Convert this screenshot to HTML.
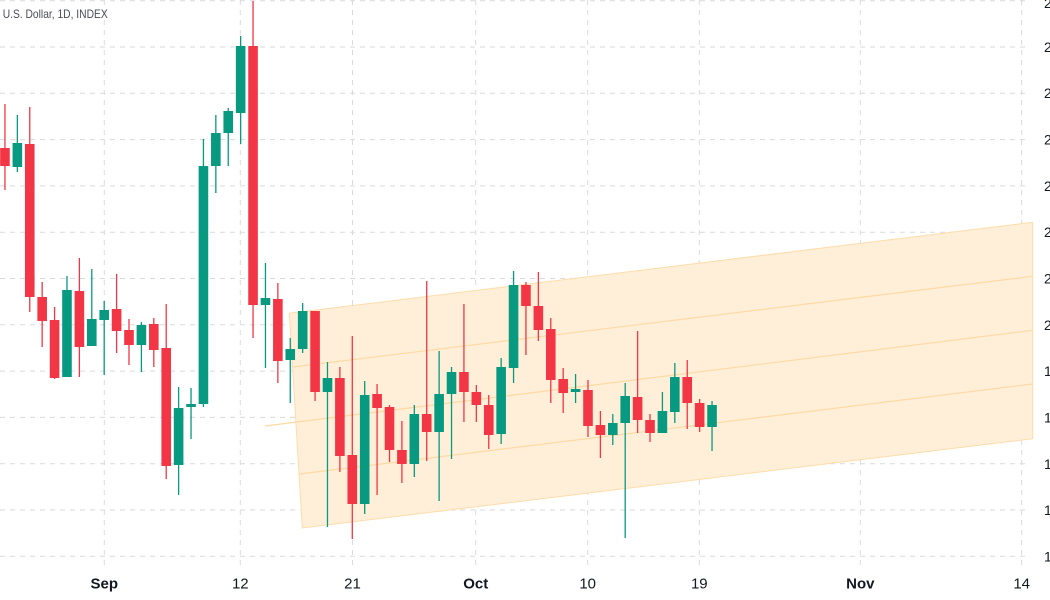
<!DOCTYPE html>
<html>
<head>
<meta charset="utf-8">
<style>
  html,body{margin:0;padding:0;background:#ffffff;}
  svg{display:block;}
  text{font-family:"Liberation Sans", "DejaVu Sans", sans-serif;}
</style>
</head>
<body>
<svg width="1050" height="600" viewBox="0 0 1050 600" xmlns="http://www.w3.org/2000/svg">
  <rect x="0" y="0" width="1050" height="600" fill="#ffffff"/>

  <!-- horizontal grid -->
  <g stroke="#d9dadd" stroke-width="1" stroke-dasharray="5 5" fill="none">
    <line x1="0" y1="0.7" x2="1030" y2="0.7"/>
    <line x1="0" y1="47" x2="1030" y2="47"/>
    <line x1="0" y1="93.3" x2="1030" y2="93.3"/>
    <line x1="0" y1="139.6" x2="1030" y2="139.6"/>
    <line x1="0" y1="185.9" x2="1030" y2="185.9"/>
    <line x1="0" y1="232.2" x2="1030" y2="232.2"/>
    <line x1="0" y1="278.5" x2="1030" y2="278.5"/>
    <line x1="0" y1="324.8" x2="1030" y2="324.8"/>
    <line x1="0" y1="371.1" x2="1030" y2="371.1"/>
    <line x1="0" y1="417.4" x2="1030" y2="417.4"/>
    <line x1="0" y1="463.7" x2="1030" y2="463.7"/>
    <line x1="0" y1="510" x2="1030" y2="510"/>
    <line x1="0" y1="556.3" x2="1030" y2="556.3"/>
  </g>
  <!-- vertical grid -->
  <g stroke="#d9dadd" stroke-width="1" stroke-dasharray="5 5" fill="none">
    <line x1="104.3" y1="0" x2="104.3" y2="566"/>
    <line x1="240.3" y1="0" x2="240.3" y2="566"/>
    <line x1="352.5" y1="0" x2="352.5" y2="566"/>
    <line x1="475.7" y1="0" x2="475.7" y2="566"/>
    <line x1="587.7" y1="0" x2="587.7" y2="566"/>
    <line x1="699.3" y1="0" x2="699.3" y2="566"/>
    <line x1="860.3" y1="0" x2="860.3" y2="566"/>
    <line x1="1021.7" y1="0" x2="1021.7" y2="566"/>
  </g>

  <!-- channel -->
  <polygon points="289.3,313.3 1032.7,222.3 1032.7,438.7 302.3,528" fill="#ffefd9" stroke="#ffdcaa" stroke-width="1"/>
  <g stroke="#ffd9a3" stroke-width="1.2" fill="none">
    <line x1="292.7" y1="367" x2="1032.7" y2="276.3"/>
    <line x1="265" y1="426" x2="1032.7" y2="330.3"/>
    <line x1="299.3" y1="474" x2="1032.7" y2="384"/>
  </g>

  <!-- wicks -->
  <path fill="none" stroke="#f23645" stroke-width="1.3" d="
    M4.95 104V190 M29.76 107V312 M42.17 282V347 M54.57 307V379 M79.38 258V377
    M116.6 274V353 M129 319V365 M153.81 318V367 M166.22 304V479 M253.05 1V338
    M277.86 283V383 M315.08 311V401 M339.89 367V472 M352.29 336V539 M377.1 384V495
    M389.51 405V462 M401.91 421V483 M426.72 281V461 M463.94 304V422 M476.34 385V422
    M488.75 395V449 M525.96 282V355 M538.37 272V341 M550.77 318V403 M563.18 368V413
    M587.99 380V437 M600.39 411V458 M637.61 331V433 M650.01 414V442 M687.23 360V429
    M699.63 399V432"/>
  <path fill="none" stroke="#089981" stroke-width="1.3" d="
    M17.36 115V172 M66.98 276V377 M91.79 269V346 M104.19 301V375 M141.41 322V372
    M178.62 387V495 M191.03 388V439 M203.43 139V407 M215.84 115V193 M228.24 108V166
    M240.65 36V144 M265.46 263V368 M290.27 338V403 M302.67 303V353 M327.48 362V527
    M364.7 381V514 M414.32 405V477 M439.13 351V501 M451.53 367V459 M501.15 358V444
    M513.56 271V383 M575.58 374V403 M612.8 414V445 M625.2 383V538 M662.42 392V433
    M674.82 363V423 M712.04 401V451"/>

  <!-- red bodies -->
  <g fill="#f23645">
    <rect x="0.15" y="148" width="9.6" height="18"/>
    <rect x="24.96" y="144" width="9.6" height="153"/>
    <rect x="37.37" y="297" width="9.6" height="24"/>
    <rect x="49.77" y="320" width="9.6" height="58"/>
    <rect x="74.58" y="291" width="9.6" height="56"/>
    <rect x="111.8" y="309" width="9.6" height="22"/>
    <rect x="124.2" y="330" width="9.6" height="15"/>
    <rect x="149.01" y="324" width="9.6" height="26"/>
    <rect x="161.42" y="348" width="9.6" height="118"/>
    <rect x="248.25" y="46" width="9.6" height="259"/>
    <rect x="273.06" y="299" width="9.6" height="62"/>
    <rect x="310.28" y="311" width="9.6" height="81"/>
    <rect x="335.09" y="378" width="9.6" height="78"/>
    <rect x="347.49" y="455" width="9.6" height="49"/>
    <rect x="372.3" y="394" width="9.6" height="14"/>
    <rect x="384.71" y="407" width="9.6" height="43"/>
    <rect x="397.11" y="450" width="9.6" height="14"/>
    <rect x="421.92" y="414" width="9.6" height="18"/>
    <rect x="459.14" y="372" width="9.6" height="20"/>
    <rect x="471.54" y="392" width="9.6" height="13"/>
    <rect x="483.95" y="405" width="9.6" height="30"/>
    <rect x="521.16" y="285" width="9.6" height="21"/>
    <rect x="533.57" y="306" width="9.6" height="24"/>
    <rect x="545.97" y="329" width="9.6" height="51"/>
    <rect x="558.38" y="379" width="9.6" height="14"/>
    <rect x="583.19" y="390" width="9.6" height="36"/>
    <rect x="595.59" y="425" width="9.6" height="10"/>
    <rect x="632.81" y="397" width="9.6" height="23"/>
    <rect x="645.21" y="420" width="9.6" height="13"/>
    <rect x="682.43" y="377" width="9.6" height="26"/>
    <rect x="694.83" y="403" width="9.6" height="24"/>
  </g>
  <!-- green bodies -->
  <g fill="#089981">
    <rect x="12.56" y="143" width="9.6" height="24"/>
    <rect x="62.18" y="290" width="9.6" height="87"/>
    <rect x="86.99" y="319" width="9.6" height="27"/>
    <rect x="99.39" y="310" width="9.6" height="10"/>
    <rect x="136.61" y="325" width="9.6" height="20"/>
    <rect x="173.82" y="408" width="9.6" height="57"/>
    <rect x="186.23" y="404" width="9.6" height="3"/>
    <rect x="198.63" y="166" width="9.6" height="238"/>
    <rect x="211.04" y="133" width="9.6" height="33"/>
    <rect x="223.44" y="111" width="9.6" height="22"/>
    <rect x="235.85" y="46" width="9.6" height="67"/>
    <rect x="260.66" y="298" width="9.6" height="7"/>
    <rect x="285.47" y="349" width="9.6" height="11"/>
    <rect x="297.87" y="311" width="9.6" height="38"/>
    <rect x="322.68" y="378" width="9.6" height="14"/>
    <rect x="359.9" y="395" width="9.6" height="109"/>
    <rect x="409.52" y="414" width="9.6" height="50"/>
    <rect x="434.33" y="394" width="9.6" height="38"/>
    <rect x="446.73" y="372" width="9.6" height="22"/>
    <rect x="496.35" y="367" width="9.6" height="67"/>
    <rect x="508.76" y="285" width="9.6" height="83"/>
    <rect x="570.78" y="389" width="9.6" height="3"/>
    <rect x="608" y="423" width="9.6" height="12"/>
    <rect x="620.4" y="396" width="9.6" height="27"/>
    <rect x="657.62" y="411" width="9.6" height="22"/>
    <rect x="670.02" y="377" width="9.6" height="35"/>
    <rect x="707.24" y="405" width="9.6" height="22"/>
  </g>

  <!-- title -->
  <text x="2.7" y="18" font-size="12" fill="#4a4d57" textLength="105" lengthAdjust="spacingAndGlyphs">U.S. Dollar, 1D, INDEX</text>

  <!-- right axis labels (clipped) -->
  <g font-size="14" fill="#131722">
    <text x="1044" y="8">2</text>
    <text x="1044" y="52">2</text>
    <text x="1044" y="98">2</text>
    <text x="1044" y="144.5">2</text>
    <text x="1044" y="191">2</text>
    <text x="1044" y="237">2</text>
    <text x="1044" y="283.5">2</text>
    <text x="1044" y="330">2</text>
    <text x="1044" y="376">1</text>
    <text x="1044" y="422.5">1</text>
    <text x="1044" y="469">1</text>
    <text x="1044" y="515">1</text>
    <text x="1044" y="561.5">1</text>
  </g>

  <!-- bottom axis labels -->
  <g font-size="15" fill="#131722" text-anchor="middle">
    <text x="104.3" y="588.5" font-weight="bold">Sep</text>
    <text x="240.3" y="588.5">12</text>
    <text x="352.5" y="588.5">21</text>
    <text x="475.7" y="588.5" font-weight="bold">Oct</text>
    <text x="587.7" y="588.5">10</text>
    <text x="699.3" y="588.5">19</text>
    <text x="860.3" y="588.5" font-weight="bold">Nov</text>
    <text x="1021.7" y="588.5">14</text>
  </g>
</svg>
</body>
</html>
